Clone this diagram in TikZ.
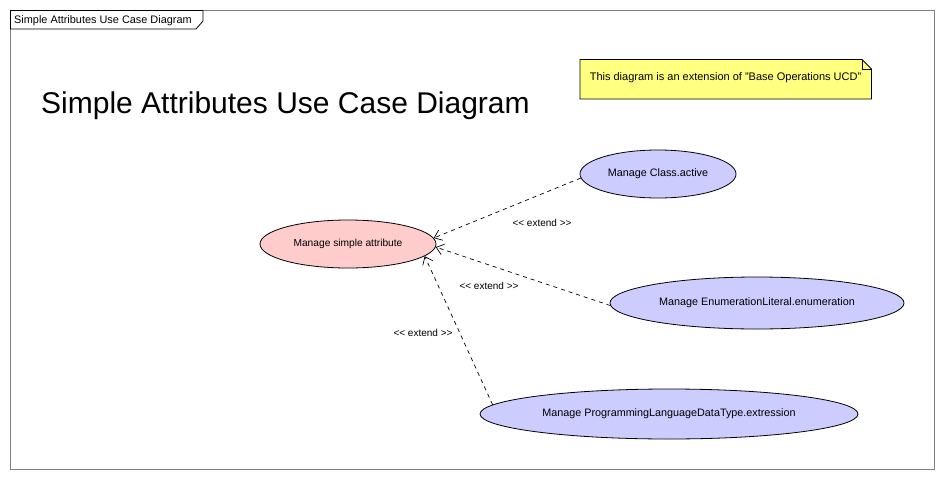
\documentclass[tikz,border=0pt]{standalone}
\usepackage{fontspec}
\setmainfont{Liberation Sans}
\usetikzlibrary{shapes.geometric,arrows.meta}
\definecolor{basefill}{HTML}{FFCCCC}
\definecolor{extfill}{HTML}{CCCCFF}
\definecolor{notefill}{HTML}{FFFF80}
\definecolor{framegray}{HTML}{808080}
\tikzset{
  uc/.style={ellipse, draw=black, line width=0.8pt, inner sep=0pt, font=\fontsize{10.8}{12}\selectfont},
  basecase/.style={uc, fill=basefill},
  extcase/.style={uc, fill=extfill},
  extendline/.style={draw=black, line width=0.7pt, dash pattern=on 4pt off 4pt, -{Straight Barb[length=7pt,width=11pt]}},
  extlabel/.style={font=\fontsize{10}{12}\selectfont, inner sep=0pt},
}
\begin{document}
\begin{tikzpicture}[x=1pt,y=-1pt]
\useasboundingbox (0,0) rectangle (944,479);
% frame
\draw[framegray, line width=1pt] (10.5,10.5) rectangle (934,469);
\draw[black, line width=0.8pt, fill=white] (10.5,10.5) -- (203,10.5) -- (203,21) -- (196,29) -- (10.5,29) -- cycle;
\node[anchor=base west, inner sep=0pt, font=\fontsize{10.9}{12}\selectfont] (tab) at (14,23) {Simple Attributes Use Case Diagram};
% title
\node[anchor=base west, inner sep=0pt, font=\fontsize{30}{36}\selectfont] (title) at (41,113) {Simple Attributes Use Case Diagram};
% note
\draw[black, line width=0.8pt, fill=notefill] (580,59.5) -- (862,59.5) -- (871.5,69) -- (871.5,99) -- (580,99) -- cycle;
\draw[black, line width=0.6pt] (862,59.5) -- (862,69) -- (871.5,69);
\node[inner sep=0pt, font=\fontsize{11}{12}\selectfont] (note) at (725.5,77.5) {This diagram is an extension of "Base Operations UCD"};
% use cases
\node[basecase, minimum width=176pt, minimum height=48pt, font=\fontsize{10.2}{12}\selectfont] (base) at (348,244) {Manage simple attribute};
\node[extcase, minimum width=156pt, minimum height=48pt] (cls) at (658,174) {Manage Class.active};
\node[extcase, minimum width=294pt, minimum height=52pt] (enum) at (757,303) {Manage EnumerationLiteral.enumeration};
\node[extcase, minimum width=378pt, minimum height=50pt] (prog) at (669,414) {Manage ProgrammingLanguageDataType.extression};
% extend relations
\draw[extendline] (cls.183) -- (base.4);
\draw[extendline] (enum.181) -- (base.-2);
\draw[extendline] (prog.177) -- (base.-9);
\node[extlabel] (l1) at (542,223) {{<}{<} extend {>}{>}};
\node[extlabel] (l2) at (489,286) {{<}{<} extend {>}{>}};
\node[extlabel] (l3) at (423,333) {{<}{<} extend {>}{>}};
\end{tikzpicture}
\end{document}
